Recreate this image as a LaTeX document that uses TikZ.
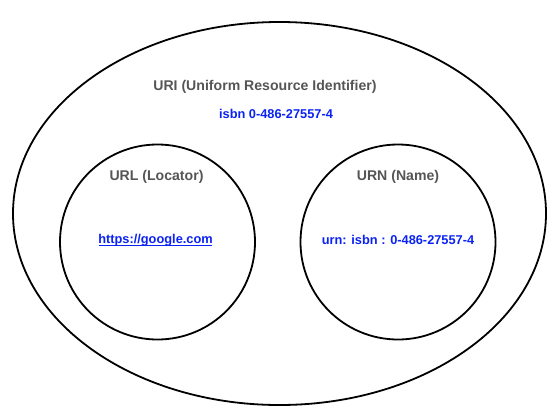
\documentclass[tikz,border=0pt]{standalone}
\usepackage{fontspec}
\setmainfont{Liberation Sans}
\usetikzlibrary{calc}
\definecolor{labelgray}{HTML}{555555}
\definecolor{linkblue}{HTML}{0A22F5}
\tikzset{
  settitle/.style={font=\bfseries\fontsize{14.1}{17}\selectfont, text=labelgray},
  setvalue/.style={font=\bfseries\fontsize{12.8}{15}\selectfont, text=linkblue},
  setline/.style={draw=black, line width=1.8pt}
}
\begin{document}
\begin{tikzpicture}[x=1pt,y=-1pt]
\useasboundingbox (0,0) rectangle (559,416);
\coordinate (O) at (279.5,213.5);
\draw[setline] (O) ellipse [x radius=266.5, y radius=191.5];
\node[settitle] (uri) at (265,87) {URI (Uniform Resource Identifier)};
\node[setvalue] (isbn) at (276,114) {isbn 0-486-27557-4};
\coordinate (L) at (157.5,242);
\draw[setline] (L) circle [radius=97.5];
\node[settitle] (url) at (156.5,177) {URL (Locator)};
\node[setvalue] (link) at (155.5,240) {https://google.com};
\draw[linkblue, line width=1pt] ($(link.base west)+(4,2)$) -- ($(link.base east)+(-4,2)$);
\coordinate (R) at (398,242);
\draw[setline] (R) circle [radius=97.5];
\node[settitle] (urn) at (398,177) {URN (Name)};
\node[setvalue] (name) at (398,240) {urn: isbn : 0-486-27557-4};
\end{tikzpicture}
\end{document}
